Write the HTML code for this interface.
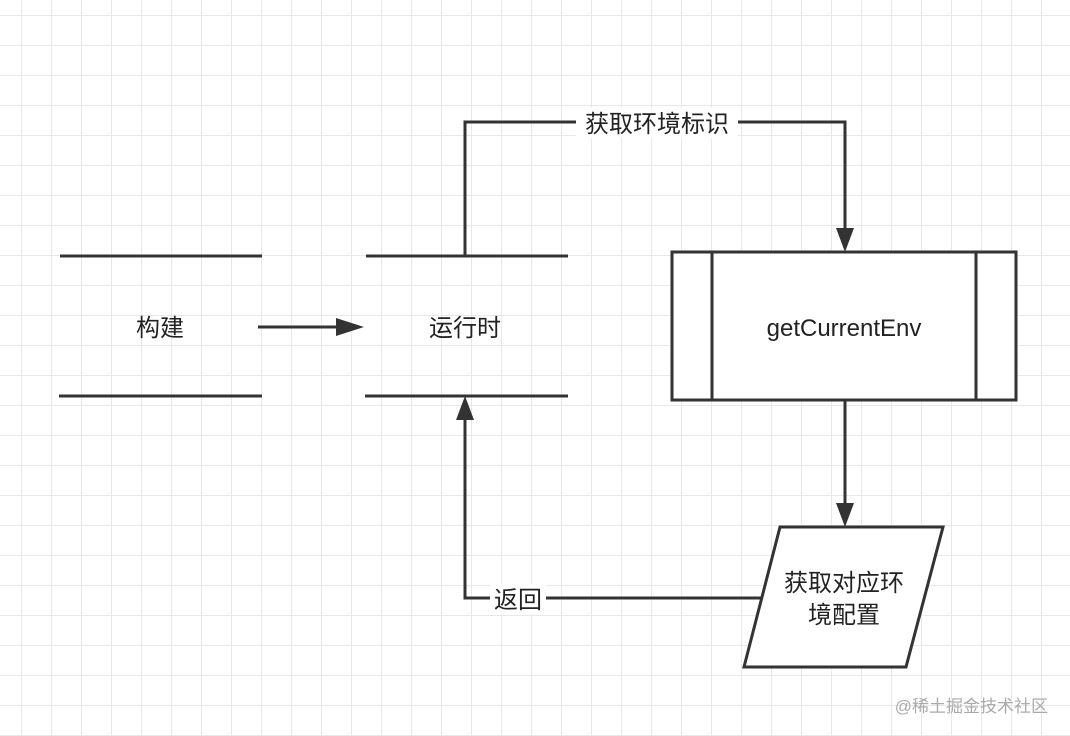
<!DOCTYPE html>
<html><head><meta charset="utf-8"><style>
html,body{margin:0;padding:0;}
body{width:1070px;height:736px;overflow:hidden;background:#fff;
background-image:linear-gradient(#e8e8e8 1px,transparent 1px),linear-gradient(90deg,#e8e8e8 1px,transparent 1px);
background-size:30px 30px;background-position:21px 15px;}
svg{position:absolute;left:0;top:0}
text{font-family:"Liberation Sans","Noto Sans CJK SC",sans-serif;fill:#222;font-size:24px}
</style></head><body>
<svg width="1070" height="736" viewBox="0 0 1070 736">
<g stroke="#333" stroke-width="3" fill="none">
<line x1="60" y1="256" x2="262" y2="256"/>
<line x1="59" y1="396" x2="262" y2="396"/>
<line x1="366" y1="256" x2="568" y2="256"/>
<line x1="365" y1="396" x2="568" y2="396"/>
<line x1="258" y1="327" x2="340" y2="327"/>
<polyline points="465,256 465,122 845,122 845,230"/>
<rect x="672" y="252" width="344" height="148" fill="#fff"/>
<line x1="712" y1="252" x2="712" y2="400"/>
<line x1="976" y1="252" x2="976" y2="400"/>
<line x1="845" y1="400" x2="845" y2="505"/>
<polygon points="780,527 943,527 906,667 744,667" fill="#fff"/>
<polyline points="762,598 465,598 465,420"/>
</g>
<g fill="#333">
<polygon points="364,327 336,318 336,336"/>
<polygon points="845,252 836,228 854,228"/>
<polygon points="845,527 836,503 854,503"/>
<polygon points="465,396 456,420 474,420"/>
</g>
<rect x="576" y="108" width="162" height="30" fill="#fff"/>
<text x="657" y="132" text-anchor="middle">获取环境标识</text>
<rect x="490" y="584" width="56" height="30" fill="#fff"/>
<text x="518" y="608" text-anchor="middle">返回</text>
<text x="160" y="336" text-anchor="middle">构建</text>
<text x="465" y="336" text-anchor="middle">运行时</text>
<text x="844" y="336" text-anchor="middle">getCurrentEnv</text>
<text x="844" y="591" text-anchor="middle">获取对应环</text>
<text x="844" y="623" text-anchor="middle">境配置</text>
<text x="1048" y="712" text-anchor="end" style="font-size:17px;fill:#aaa">@稀土掘金技术社区</text>
</svg>
</body></html>
